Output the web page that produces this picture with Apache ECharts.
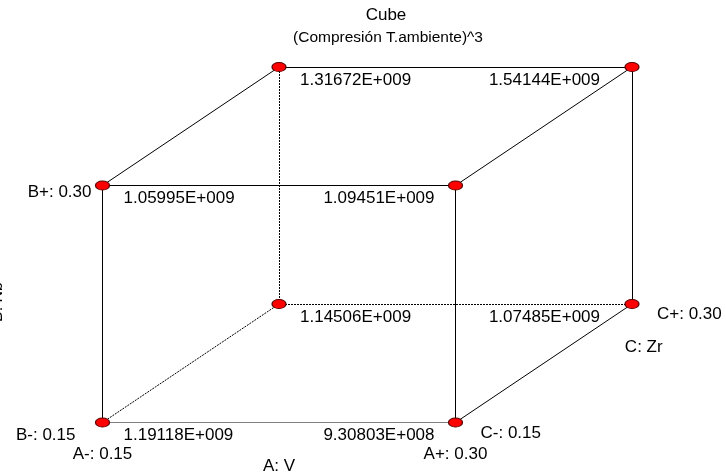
<!DOCTYPE html>
<html>
<head>
<meta charset="utf-8">
<title>Cube</title>
<script src="https://cdn.jsdelivr.net/npm/echarts@6/dist/echarts.min.js"></script>
<style>
  html, body { margin: 0; padding: 0; background: #ffffff; }
  #chart { width: 726px; height: 476px; }
</style>
</head>
<body>
<div id="chart"></div>
<script>
// Two-level, three-factor design drawn as a cube; each corner carries its predicted response.
const titleText = 'Cube';
const subtitleText = '(Compresión T.ambiente)^3';

const factorNames = ['A: V', 'B: Nb', 'C: Zr'];
const factorLow = ['0.15', '0.15', '0.15'];
const factorHigh = ['0.30', '0.30', '0.30'];

// Coded levels of the eight runs (corner order: A fastest, then B, then C)
const runA = [-1, 1, -1, 1, -1, 1, -1, 1];
const runB = [-1, -1, 1, 1, -1, -1, 1, 1];
const runC = [-1, -1, -1, -1, 1, 1, 1, 1];
const response = [1.19118e9, 9.30803e8, 1.05995e9, 1.09451e9, 1.14506e9, 1.07485e9, 1.31672e9, 1.54144e9];

const FONT = '"Liberation Sans", Arial, sans-serif';
const DEPTH = 0.5; // oblique shift of the C axis

// Oblique projection of a coded corner into the flat plot plane
function project(a, b, c) {
  const cc = (c + 1) / 2;
  return [(a + 1) / 2 + DEPTH * cc, (b + 1) / 2 + DEPTH * cc];
}
function corner(i) { return project(runA[i], runB[i], runC[i]); }

// 1.19118E+009 style
function sciLabel(v) {
  const e = Math.floor(Math.log10(Math.abs(v)));
  const m = v / Math.pow(10, e);
  return m.toFixed(5) + 'E' + (e < 0 ? '-' : '+') + String(Math.abs(e)).padStart(3, '0');
}

// Edges: each pair of corners differing in one factor
const edges = [];
for (let i = 0; i < 8; i++) {
  for (let j = i + 1; j < 8; j++) {
    const diff = (runA[i] !== runA[j]) + (runB[i] !== runB[j]) + (runC[i] !== runC[j]);
    if (diff === 1) edges.push([i, j]);
  }
}
const hiddenCorner = 4; // A-, B-, C+ sits behind the front face

const edgeData = edges.map(([i, j]) => {
  const hidden = i === hiddenCorner || j === hiddenCorner;
  return {
    coords: [corner(i), corner(j)],
    lineStyle: {
      color: '#000000',
      width: 1,
      opacity: 1,
      type: hidden ? [2, 1] : 'solid'
    }
  };
});

// Low-A values sit right of their corner, high-A values left of it
function valueOffsetX(i) {
  if (runA[i] < 0) return 21;
  return runC[i] > 0 ? -32 : -21;
}

const cornerData = response.map((v, i) => ({
  value: corner(i),
  label: {
    formatter: sciLabel(v),
    align: runA[i] < 0 ? 'left' : 'right',
    offset: [valueOffsetX(i), 13]
  }
}));

// Factor level labels and axis names around the cube
const factorLabelData = [
  { value: project(-1, 1, -1), text: 'B+: ' + factorHigh[1], align: 'right', offset: [-11, 7] },
  { value: project(-1, -1, -1), text: 'B-: ' + factorLow[1], align: 'right', offset: [-27, 13] },
  { value: project(-1, -1, -1), text: 'A-: ' + factorLow[0], align: 'center', offset: [0, 32] },
  { value: project(1, -1, -1), text: 'A+: ' + factorHigh[0], align: 'center', offset: [0, 32] },
  { value: project(0, -1, -1), text: factorNames[0], align: 'center', offset: [0, 44] },
  { value: project(1, -1, -1), text: 'C-: ' + factorLow[2], align: 'left', offset: [25, 11] },
  { value: project(1, -1, 1), text: 'C+: ' + factorHigh[2], align: 'left', offset: [25, 10] },
  { value: project(1, -1, 0), text: factorNames[2], align: 'center', offset: [100, -16] }
].map(d => ({
  value: d.value,
  label: { formatter: d.text, align: d.align, offset: d.offset }
}));

const chart = echarts.init(document.getElementById('chart'), null, { renderer: 'canvas' });

chart.setOption({
  animation: false,
  backgroundColor: '#ffffff',
  textStyle: { fontFamily: FONT },
  title: [
    {
      text: titleText,
      left: 381, top: 2, textAlign: 'center',
      textStyle: { fontFamily: FONT, fontSize: 17, fontWeight: 'normal', color: '#000' }
    },
    {
      text: subtitleText,
      left: 383, top: 25, textAlign: 'center',
      textStyle: { fontFamily: FONT, fontSize: 15.5, fontWeight: 'normal', color: '#000' }
    }
  ],
  grid: { left: 102.5, top: 67, width: 529.5, height: 355.5 },
  xAxis: { type: 'value', min: 0, max: 1 + DEPTH, show: false },
  yAxis: { type: 'value', min: 0, max: 1 + DEPTH, show: false },
  graphic: [
    {
      type: 'text',
      x: 6, y: 302,
      rotation: Math.PI / 2,
      style: {
        text: factorNames[1],
        font: '16px ' + FONT,
        fill: '#000',
        align: 'center',
        verticalAlign: 'bottom'
      }
    }
  ],
  series: [
    {
      type: 'lines',
      coordinateSystem: 'cartesian2d',
      silent: true,
      z: 1,
      data: edgeData
    },
    {
      type: 'scatter',
      z: 3,
      symbol: 'circle',
      symbolSize: [14, 9],
      itemStyle: { color: '#ff0000', borderColor: '#5a0000', borderWidth: 1, opacity: 1 },
      label: {
        show: true,
        position: 'inside',
        verticalAlign: 'middle',
        color: '#000',
        fontFamily: FONT,
        fontSize: 17
      },
      data: cornerData
    },
    {
      type: 'scatter',
      z: 2,
      symbolSize: 0,
      silent: true,
      itemStyle: { opacity: 1 },
      label: {
        show: true,
        position: 'inside',
        verticalAlign: 'middle',
        color: '#000',
        fontFamily: FONT,
        fontSize: 17
      },
      data: factorLabelData
    }
  ]
});
</script>
</body>
</html>
